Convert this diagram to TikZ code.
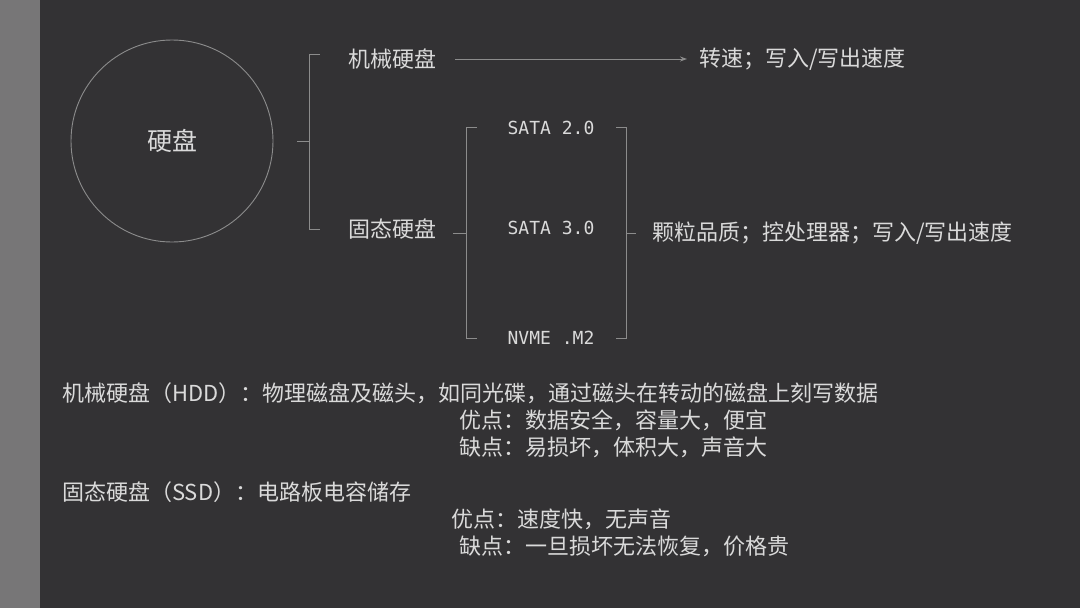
\documentclass[tikz,border=0pt]{standalone}
\usepackage{fontspec}
\setmainfont{Noto Sans CJK SC}
\newfontfamily\monof{DejaVu Sans Mono}
\usetikzlibrary{arrows.meta}
\definecolor{bg}{HTML}{333234}
\definecolor{strip}{HTML}{777677}
\definecolor{txt}{HTML}{DADADA}
\definecolor{ln}{HTML}{8C8C8C}
\tikzset{
  lbl/.style={text=txt, inner sep=0pt, font=\fontsize{22}{25}\selectfont},
  body/.style={text=txt, inner sep=0pt, anchor=west, font=\fontsize{22}{25}\selectfont},
  mono/.style={text=txt, inner sep=0pt, font=\monof\fontsize{18}{21}\selectfont},
  brk/.style={draw=ln, line width=0.9pt},
}
\begin{document}
\begin{tikzpicture}[x=1pt,y=-1pt]
\useasboundingbox (0,0) rectangle (1080,608);
\fill[bg] (0,0) rectangle (1080,608);
\fill[strip] (0,0) rectangle (40,608);
% disk circle
\node[draw=ln, line width=0.9pt, circle, minimum size=202pt, inner sep=0pt, text=txt, font=\fontsize{25}{28}\selectfont] (hd) at (172,141) {硬盘};
% bracket 1
\draw[brk] (320,54) -- (309,54) -- (309,229) -- (320,229);
\draw[brk] (297,141) -- (309,141);
\node[lbl] (hdd) at (392,59) {机械硬盘};
\node[lbl] (ssd) at (392,229) {固态硬盘};
\node[lbl, anchor=west] (hddf) at (699,59) {转速；写入/写出速度};
\draw[draw=ln, line width=0.9pt, -{Stealth[length=7pt,width=5pt]}] (hdd.east)+(19,0) -- ([xshift=-12pt]hddf.west);
% bracket 2
\draw[brk] (477,127) -- (466,127) -- (466,338) -- (477,338);
\draw[brk] (453,233) -- (466,233);
\node[mono] (s2) at (551,128) {SATA 2.0};
\node[mono] (s3) at (551,228) {SATA 3.0};
\node[mono] (nv) at (551,338) {NVME .M2};
% bracket 3
\draw[brk] (616,127) -- (626,127) -- (626,338) -- (616,338);
\draw[brk] (626,233) -- (636,233);
\node[lbl, anchor=west] (ssdf) at (652,233) {颗粒品质；控处理器；写入/写出速度};
% bottom text
\node[body] (t1) at (62,393) {机械硬盘（HDD）：物理磁盘及磁头，如同光碟，通过磁头在转动的磁盘上刻写数据};
\node[body] (t2) at (459,420) {优点：数据安全，容量大，便宜};
\node[body] (t3) at (459,447) {缺点：易损坏，体积大，声音大};
\node[body] (t4) at (62,492) {固态硬盘（SSD）：电路板电容储存};
\node[body] (t5) at (451,519) {优点：速度快，无声音};
\node[body] (t6) at (459,546) {缺点：一旦损坏无法恢复，价格贵};
\end{tikzpicture}
\end{document}
